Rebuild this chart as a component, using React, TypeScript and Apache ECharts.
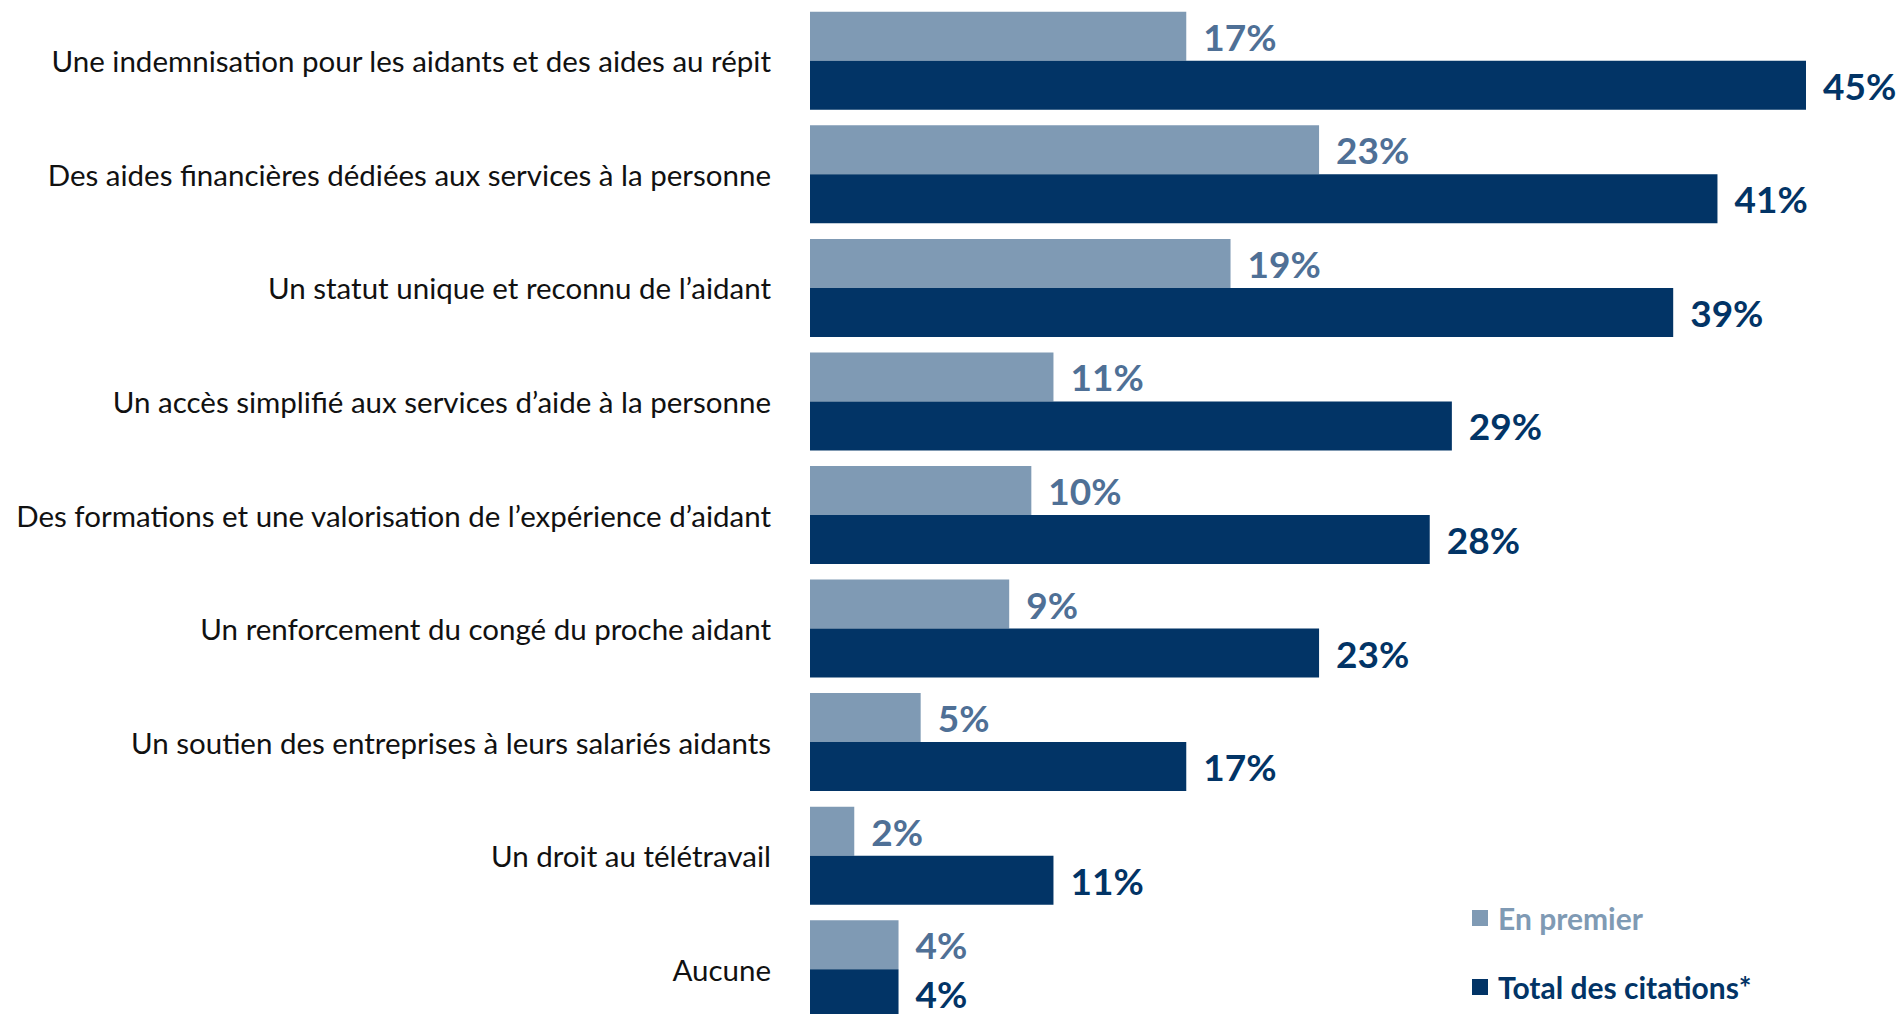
import React, { useEffect, useRef } from "react";
import * as echarts from "echarts";

const categories = [
  "Une indemnisation pour les aidants et des aides au répit",
  "Des aides financières dédiées aux services à la personne",
  "Un statut unique et reconnu de l’aidant",
  "Un accès simplifié aux services d’aide à la personne",
  "Des formations et une valorisation de l’expérience d’aidant",
  "Un renforcement du congé du proche aidant",
  "Un soutien des entreprises à leurs salariés aidants",
  "Un droit au télétravail",
  "Aucune",
];
const enPremier = [17, 23, 19, 11, 10, 9, 5, 2, 4];
const totalCitations = [45, 41, 39, 29, 28, 23, 17, 11, 4];
const seriesNames = ["En premier", "Total des citations*"];

const LIGHT = "#7f9ab4";
const LIGHT_LABEL = "#4f7096";
const DARK = "#023466";
const FONT = "Lato, 'Noto Sans', sans-serif";

export default function App() {
  const ref = useRef<HTMLDivElement>(null);
  useEffect(() => {
    if (!ref.current) return;
    const chart = echarts.init(ref.current, undefined, { renderer: "svg" });
    chart.setOption({
      animation: false,
      backgroundColor: "#ffffff",
      textStyle: { fontFamily: FONT },
      grid: { left: 810, top: 4, width: 996, height: 1022, containLabel: false },
      legend: {
        orient: "vertical",
        left: 1472,
        top: 902,
        padding: 0,
        icon: "rect",
        itemWidth: 16,
        itemHeight: 16,
        itemGap: 37,
        selectedMode: false,
        textStyle: {
          fontFamily: FONT,
          fontSize: 30,
          fontWeight: "bold",
          lineHeight: 32,
          padding: [0, 0, 0, 5],
        },
        data: [
          { name: seriesNames[0], textStyle: { color: LIGHT } },
          { name: seriesNames[1], textStyle: { color: DARK } },
        ],
      },
      xAxis: {
        type: "value",
        min: 0,
        max: 45,
        show: false,
        splitLine: { show: false },
      },
      yAxis: {
        type: "category",
        inverse: true,
        data: categories,
        axisLine: { show: false },
        axisTick: { show: false },
        axisLabel: {
          color: "#111111",
          fontFamily: FONT,
          fontSize: 29.5,
          margin: 39,
        },
      },
      series: [
        {
          name: seriesNames[0],
          type: "bar",
          data: enPremier,
          barWidth: 49,
          barGap: "0%",
          itemStyle: { color: LIGHT },
          label: {
            show: true,
            position: "right",
            distance: 17,
            formatter: "{c}%",
            color: LIGHT_LABEL,
            fontFamily: FONT,
            fontWeight: "bold",
            fontSize: 37,
          },
        },
        {
          name: seriesNames[1],
          type: "bar",
          data: totalCitations,
          barWidth: 49,
          barGap: "0%",
          itemStyle: { color: DARK },
          label: {
            show: true,
            position: "right",
            distance: 17,
            formatter: "{c}%",
            color: DARK,
            fontFamily: FONT,
            fontWeight: "bold",
            fontSize: 37,
          },
        },
      ],
    });
    return () => chart.dispose();
  }, []);
  return (
    <div
      style={{
        position: "fixed",
        left: 0,
        top: 0,
        width: 1902,
        height: 1014,
        overflow: "hidden",
        background: "#ffffff",
      }}
    >
      <div ref={ref} style={{ width: 1902, height: 1040 }} />
    </div>
  );
}
